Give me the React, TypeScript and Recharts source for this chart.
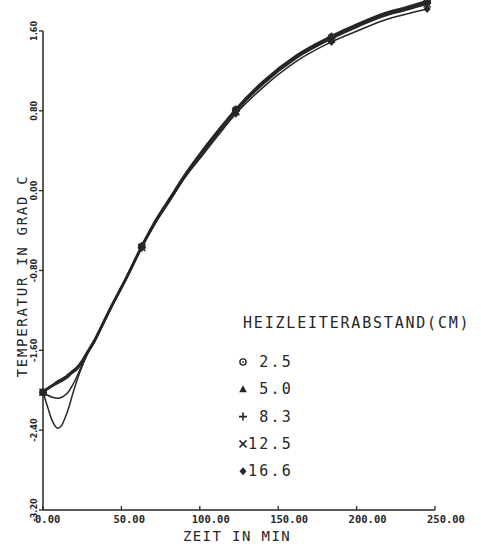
import React from 'react';
import { LineChart, Line, XAxis, YAxis, ReferenceLine, Legend, Label } from 'recharts';

// time in minutes
const TIME = [0, 3, 6, 9.5, 12, 14, 16.5, 18.5, 21.7, 25, 28, 33, 38, 43, 53, 63, 72, 81, 90, 102, 112, 123, 140, 162, 184, 202, 218, 232, 245];

// temperature (Grad C) per heater spacing
const S_2_5 = [-2.02, -1.98, -1.95, -1.91, -1.89, -1.87, -1.84, -1.82, -1.78, -1.71, -1.63, -1.50, -1.34, -1.18, -0.88, -0.56, -0.30, -0.08, 0.14, 0.40, 0.60, 0.81, 1.08, 1.35, 1.54, 1.67, 1.77, 1.83, 1.89];
const S_5_0 = [-2.02, -1.98, -1.95, -1.91, -1.89, -1.87, -1.84, -1.81, -1.77, -1.70, -1.62, -1.49, -1.33, -1.17, -0.87, -0.55, -0.29, -0.07, 0.15, 0.41, 0.61, 0.82, 1.09, 1.36, 1.55, 1.68, 1.78, 1.84, 1.90];
const S_8_3 = [-2.02, -1.99, -1.96, -1.93, -1.91, -1.89, -1.86, -1.83, -1.79, -1.72, -1.64, -1.51, -1.35, -1.19, -0.89, -0.57, -0.31, -0.09, 0.13, 0.39, 0.59, 0.80, 1.07, 1.34, 1.53, 1.66, 1.76, 1.82, 1.88];
const S_12_5 = [-2.02, -2.05, -2.07, -2.08, -2.07, -2.05, -2.01, -1.96, -1.86, -1.74, -1.64, -1.51, -1.35, -1.19, -0.89, -0.57, -0.31, -0.10, 0.12, 0.38, 0.58, 0.79, 1.06, 1.33, 1.52, 1.65, 1.75, 1.81, 1.87];
const S_16_6 = [-2.02, -2.17, -2.31, -2.38, -2.35, -2.28, -2.17, -2.06, -1.90, -1.76, -1.65, -1.51, -1.35, -1.19, -0.89, -0.57, -0.32, -0.10, 0.12, 0.36, 0.56, 0.77, 1.03, 1.30, 1.49, 1.61, 1.71, 1.77, 1.82];

const SERIES_NAMES = ['2.5', '5.0', '8.3', '12.5', '16.6'];
const SERIES_VALUES = [S_2_5, S_5_0, S_8_3, S_12_5, S_16_6];
const MARK_TIMES = [0, 63, 123, 184, 245];

const X_TICKS = [0, 50, 100, 150, 200, 250];
const Y_TICKS = [-3.2, -2.4, -1.6, -0.8, 0, 0.8, 1.6];
const X_TITLE = 'ZEIT IN MIN';
const Y_TITLE = 'TEMPERATUR IN GRAD C';
const LEGEND_TITLE = 'HEIZLEITERABSTAND(CM)';

const INK = '#262626';
const MONO = '"DejaVu Sans Mono", monospace';
const STROKES = [2.2, 2.0, 1.8, 1.5, 1.5];

const data = TIME.map((t, i) => {
  const row: Record<string, number> = { t };
  SERIES_VALUES.forEach((vals, k) => {
    row['s' + k] = vals[i];
  });
  return row;
});

function Marker({ kind, cx, cy }: { kind: number; cx: number; cy: number }) {
  switch (kind) {
    case 0:
      return (
        <g>
          <circle cx={cx} cy={cy} r={3.1} fill="#fff" stroke={INK} strokeWidth={1.4} />
          <circle cx={cx} cy={cy} r={0.9} fill={INK} />
        </g>
      );
    case 1:
      return <polygon points={`${cx},${cy - 4} ${cx - 3.8},${cy + 3} ${cx + 3.8},${cy + 3}`} fill={INK} />;
    case 2:
      return (
        <path d={`M${cx - 4},${cy} H${cx + 4} M${cx},${cy - 4} V${cy + 4}`} stroke={INK} strokeWidth={1.6} fill="none" />
      );
    case 3:
      return (
        <path
          d={`M${cx - 3.5},${cy - 3.5} L${cx + 3.5},${cy + 3.5} M${cx + 3.5},${cy - 3.5} L${cx - 3.5},${cy + 3.5}`}
          stroke={INK}
          strokeWidth={1.5}
          fill="none"
        />
      );
    default:
      return <polygon points={`${cx},${cy - 4} ${cx + 3.5},${cy} ${cx},${cy + 4} ${cx - 3.5},${cy}`} fill={INK} />;
  }
}

const makeDot = (k: number) => (props: any) => {
  const { cx, cy, payload, index } = props;
  if (!payload || !MARK_TIMES.includes(payload.t) || cx == null || cy == null) {
    return <g key={`d${k}-${index}`} />;
  }
  return (
    <g key={`d${k}-${index}`}>
      <Marker kind={k} cx={cx} cy={cy} />
    </g>
  );
};

const XTick = (props: any) => {
  const { x, y, payload } = props;
  return (
    <g>
      <line x1={x} x2={x} y1={y} y2={y - 4} stroke={INK} strokeWidth={1.3} />
      <text x={x - 8} y={y + 13} textAnchor="start" fontFamily={MONO} fontWeight="bold" fontSize={10.5} fill={INK}>
        {Number(payload.value).toFixed(2)}
      </text>
    </g>
  );
};

const YTick = (props: any) => {
  const { x, y, payload } = props;
  return (
    <g>
      <line x1={x} x2={x - 4} y1={y} y2={y} stroke={INK} strokeWidth={1.3} />
      <text
        transform={`translate(${x - 6},${y}) rotate(-90)`}
        textAnchor="middle"
        fontFamily='"DejaVu Sans Condensed", "DejaVu Sans", sans-serif'
        fontWeight="bold"
        fontSize={9}
        fill={INK}
      >
        {Number(payload.value).toFixed(2)}
      </text>
    </g>
  );
};

const XTitle = (props: any) => {
  const vb = props.viewBox || { x: 43, y: 510, width: 392 };
  return (
    <text
      x={vb.x + vb.width / 2 - 2}
      y={vb.y + 31}
      textAnchor="middle"
      fontFamily={MONO}
      fontSize={14}
      letterSpacing={1.4}
      fill={INK}
    >
      {X_TITLE}
    </text>
  );
};

const YTitle = (props: any) => {
  const vb = props.viewBox || { x: 0, y: 0 };
  return (
    <text
      transform={`translate(${vb.x + 27},276) rotate(-90)`}
      textAnchor="middle"
      fontFamily={MONO}
      fontSize={14}
      letterSpacing={1.7}
      fill={INK}
    >
      {Y_TITLE}
    </text>
  );
};

const LegendBox = (props: any) => {
  const payload: any[] = (props.payload || []).slice();
  payload.sort((a, b) => SERIES_NAMES.indexOf(a.value) - SERIES_NAMES.indexOf(b.value));
  return (
    <svg width={245} height={200}>
      <text x={7} y={22} fontFamily={MONO} fontSize={15} letterSpacing={1.8} fill={INK}>
        {LEGEND_TITLE}
      </text>
      {payload.map((item, i) => {
        const k = SERIES_NAMES.indexOf(item.value);
        const base = 61 + i * 27.3;
        return (
          <g key={item.value}>
            <Marker kind={k} cx={7} cy={base - 5} />
            <text x={57} y={base} textAnchor="end" fontFamily={MONO} fontSize={15} letterSpacing={2.2} fill={INK}>
              {item.value}
            </text>
          </g>
        );
      })}
    </svg>
  );
};

export default function App() {
  return (
    <div style={{ position: 'absolute', left: 0, top: 0, width: 481, height: 544, background: '#fff' }}>
      <LineChart width={481} height={544} data={data} margin={{ top: 0, right: 46, bottom: 0, left: 0 }}>
        <XAxis
          dataKey="t"
          type="number"
          domain={[0, 250]}
          ticks={X_TICKS}
          interval={0}
          height={34}
          tickLine={false}
          tickSize={0}
          tickMargin={0}
          axisLine={{ stroke: INK, strokeWidth: 1.5 }}
          tick={XTick}
        >
          <Label content={XTitle} />
        </XAxis>
        <YAxis
          type="number"
          domain={[-3.2, 1.91]}
          ticks={Y_TICKS}
          interval={0}
          width={43}
          axisLine={false}
          tickLine={false}
          tickSize={0}
          tickMargin={0}
          tick={YTick}
        >
          <Label content={YTitle} />
        </YAxis>
        <ReferenceLine
          segment={[
            { x: 0, y: -3.2 },
            { x: 0, y: 1.6 },
          ]}
          stroke={INK}
          strokeWidth={1.5}
          ifOverflow="visible"
        />
        {SERIES_NAMES.map((name, k) => (
          <Line
            key={name}
            type="monotone"
            dataKey={'s' + k}
            name={name}
            stroke={INK}
            strokeWidth={STROKES[k]}
            dot={makeDot(k)}
            activeDot={false}
            isAnimationActive={false}
          />
        ))}
        <Legend
          layout="horizontal"
          verticalAlign="middle"
          align="center"
          content={LegendBox}
          wrapperStyle={{ position: 'absolute', left: 236, top: 306, width: 245, height: 200 }}
        />
      </LineChart>
    </div>
  );
}
